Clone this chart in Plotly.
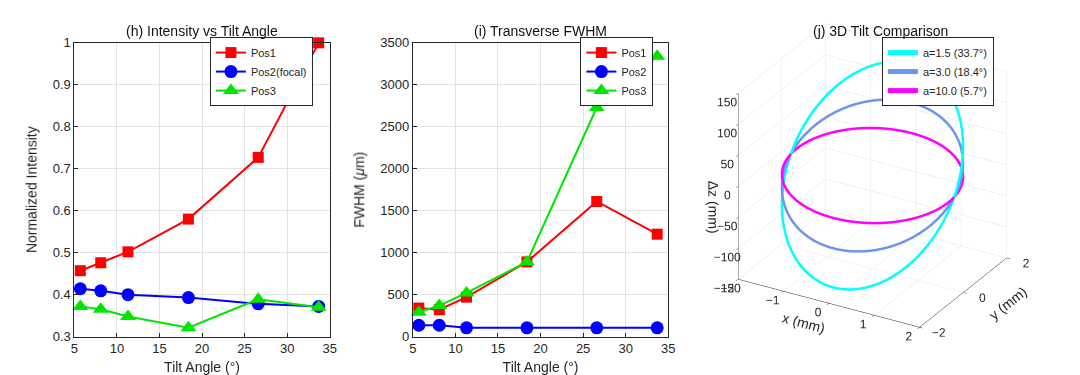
import numpy as np
import plotly.graph_objects as go

# ---------------- data ----------------
tilt_angles = [5.7, 8.1, 11.3, 18.4, 26.6, 33.7]

intensity_pos1 = [0.457, 0.476, 0.502, 0.580, 0.727, 1.000]
intensity_pos2 = [0.414, 0.409, 0.400, 0.393, 0.378, 0.372]
intensity_pos3 = [0.372, 0.365, 0.348, 0.321, 0.389, 0.370]

fwhm_pos1 = [340, 320, 470, 890, 1610, 1220]
fwhm_pos2 = [135, 135, 105, 105, 105, 105]
fwhm_pos3 = [290, 370, 520, 890, 2730, 3340]

tilt_a_values = [1.5, 3.0, 10.0]
tilt_a_angles = [33.7, 18.4, 5.7]
tilt_dz_amplitude = [130, 67, 18]      # max Δz (mm) of each tilted ring
ring_radius = 1.8                       # mm
ring_colors = ["#00FFFF", "#6A96EE", "#FF00FF"]

# ---------------- style ----------------
FONT = "Liberation Sans, Arial, Helvetica, sans-serif"
AX = "#262626"
GRID = "#E3E3E3"
RED, BLUE, GREEN = "#FF0000", "#0000FF", "#00E600"

fig = go.Figure()

def add_series(x, y, name, color, symbol, size, xa, ya, legend):
    fig.add_trace(go.Scatter(
        x=x, y=y, name=name, mode="lines+markers",
        line=dict(color=color, width=2),
        marker=dict(symbol=symbol, size=size, color=color),
        xaxis=xa, yaxis=ya, legend=legend, cliponaxis=False))

add_series(tilt_angles, intensity_pos1, "Pos1", RED, "square", 11, "x", "y", "legend")
add_series(tilt_angles, intensity_pos2, "Pos2(focal)", BLUE, "circle", 13, "x", "y", "legend")
add_series(tilt_angles, intensity_pos3, "Pos3", GREEN, "triangle-up", 14, "x", "y", "legend")

add_series(tilt_angles, fwhm_pos1, "Pos1", RED, "square", 11, "x2", "y2", "legend2")
add_series(tilt_angles, fwhm_pos2, "Pos2", BLUE, "circle", 13, "x2", "y2", "legend2")
add_series(tilt_angles, fwhm_pos3, "Pos3", GREEN, "triangle-up", 14, "x2", "y2", "legend2")

t = np.linspace(0, 2 * np.pi, 241)
for a, ang, amp, col in zip(tilt_a_values, tilt_a_angles, tilt_dz_amplitude, ring_colors):
    fig.add_trace(go.Scatter3d(
        x=ring_radius * np.cos(t), y=ring_radius * np.sin(t), z=amp * np.sin(t),
        mode="lines", line=dict(color=col, width=5),
        name=f"a={a:.1f} ({ang:.1f}°)", legend="legend3", scene="scene",
        hoverinfo="skip"))

def ax2d(domain, rng, dtick, title, standoff, **kw):
    d = dict(domain=domain, range=rng, dtick=dtick, showgrid=True, gridcolor=GRID,
             zeroline=False, showline=True, linecolor=AX, linewidth=1, mirror=True,
             ticks="inside", ticklen=4, tickcolor=AX,
             tickfont=dict(family=FONT, size=13, color=AX),
             title=dict(text=title, font=dict(family=FONT, size=14, color=AX), standoff=standoff))
    d.update(kw)
    return d

y_dom = [1 - 335 / 375, 1 - 29 / 375]
fig.update_layout(
    width=1080, height=375, margin=dict(l=0, r=0, t=0, b=0),
    paper_bgcolor="white", plot_bgcolor="white", showlegend=True,
    font=dict(family=FONT, color=AX),
    xaxis=ax2d([63 / 1080, 321 / 1080], [5, 35], 5, "Tilt Angle (°)", 6, anchor="y"),
    yaxis=ax2d(y_dom, [0.3, 1.0], 0.1, "Normalized Intensity", 12, anchor="x"),
    xaxis2=ax2d([405 / 1080, 663 / 1080], [5, 35], 5, "Tilt Angle (°)", 6, anchor="y2"),
    yaxis2=ax2d(y_dom, [0, 3500], 500, "FWHM (<i>μ</i>m)", 12, anchor="x2"),
)

leg_common = dict(bgcolor="white", bordercolor=AX, borderwidth=1,
                  font=dict(family=FONT, size=11, color=AX),
                  xanchor="right", yanchor="top", tracegroupgap=0)
fig.update_layout(
    legend=dict(x=304 / 1080, y=1 - 23 / 375, **leg_common),
    legend2=dict(x=648 / 1080, y=1 - 23 / 375, **leg_common),
    legend3=dict(x=992 / 1080, y=1 - 23 / 375, **leg_common),
)

ax3 = dict(showbackground=False, gridcolor=GRID, gridwidth=1, zeroline=False,
           showline=True, linecolor=AX, linewidth=1, ticks="outside", ticklen=4,
           tickcolor=AX, showspikes=False, tickangle=0,
           tickfont=dict(family=FONT, size=12, color=AX))
e = np.array([0.453, -0.785, 0.423])
e = e / np.linalg.norm(e) * 2.0
fig.update_layout(scene=dict(
    domain=dict(x=[700 / 1080, 1038 / 1080], y=[0.03, 1.0]),
    xaxis=dict(range=[-2, 2], dtick=1, title=dict(text="x (mm)", font=dict(family=FONT, size=14, color=AX)), **ax3),
    yaxis=dict(range=[-2, 2], dtick=2, title=dict(text="y (mm)", font=dict(family=FONT, size=14, color=AX)), **ax3),
    zaxis=dict(range=[-150, 150], dtick=50, title=dict(text="Δz (mm)", font=dict(family=FONT, size=14, color=AX)), **ax3),
    aspectmode="manual", aspectratio=dict(x=1.2, y=1.0, z=1.2),
    camera=dict(eye=dict(x=e[0], y=e[1], z=e[2]), up=dict(x=0, y=0, z=1),
                center=dict(x=0, y=0, z=-0.09), projection=dict(type="orthographic")),
))

titles = [("(h) Intensity vs Tilt Angle", 192), ("(i) Transverse FWHM", 534),
          ("(j) 3D Tilt Comparison", 877)]
for txt, px in titles:
    fig.add_annotation(text=txt, x=px / 1080, y=1 - 17 / 375, xref="paper", yref="paper",
                       showarrow=False, xanchor="center", yanchor="middle",
                       font=dict(family=FONT, size=14, color="#111111"))

fig.write_html("out.html")
